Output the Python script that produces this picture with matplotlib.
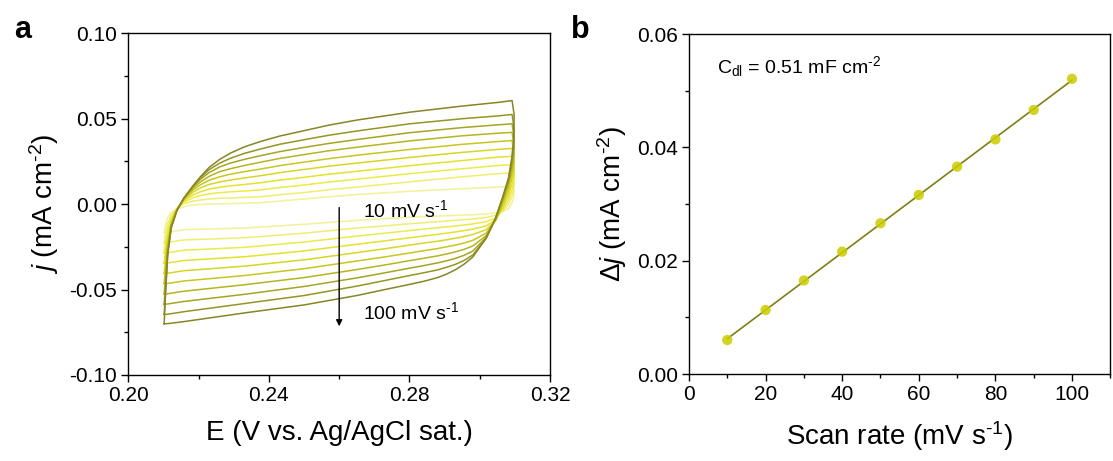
import numpy as np
from matplotlib import pyplot as plt
from matplotlib.ticker import MultipleLocator

# ---- panel a: CV loops (E in V, j in mA cm-2) ----
scan_rates = [10, 20, 30, 40, 50, 60, 70, 80, 90, 100]

# forward (anodic) sweep potentials, shared by every loop
E_fwd = [0.2102, 0.2106, 0.2112, 0.2122, 0.2138, 0.2158, 0.2185, 0.2205,
         0.2230, 0.2260, 0.2290, 0.2330, 0.2375, 0.2430, 0.2500, 0.2570,
         0.2650, 0.2800, 0.2950, 0.3050, 0.3092]
# reverse (cathodic) sweep potentials
E_rev = [0.3098, 0.3096, 0.3091, 0.3082, 0.3065, 0.3045, 0.3018, 0.2980,
         0.2955, 0.2930, 0.2905, 0.2880, 0.2840, 0.2800, 0.2730, 0.2650,
         0.2500, 0.2330, 0.2157, 0.2110]

j_fwd = {
    10: [-0.0165, -0.0120, -0.0080, -0.0050, -0.0030, -0.0015, -0.0005, -0.0002,
         0.0000, 0.0002, 0.0003, 0.0005, 0.0008, 0.0018, 0.0030, 0.0043,
         0.0056, 0.0075, 0.0090, 0.0100, 0.0105],
    20: [-0.0225, -0.0170, -0.0115, -0.0065, -0.0025, 0.0003, 0.0018, 0.0024,
         0.0030, 0.0034, 0.0036, 0.0039, 0.0043, 0.0055, 0.0068, 0.0084,
         0.0100, 0.0130, 0.0160, 0.0178, 0.0182],
    30: [-0.0285, -0.0220, -0.0150, -0.0080, -0.0025, 0.0012, 0.0038, 0.0050,
         0.0060, 0.0067, 0.0072, 0.0077, 0.0083, 0.0097, 0.0112, 0.0129,
         0.0146, 0.0178, 0.0207, 0.0226, 0.0230],
    40: [-0.0345, -0.0270, -0.0185, -0.0095, -0.0028, 0.0020, 0.0055, 0.0072,
         0.0088, 0.0099, 0.0107, 0.0115, 0.0125, 0.0140, 0.0157, 0.0175,
         0.0192, 0.0225, 0.0255, 0.0275, 0.0280],
    50: [-0.0405, -0.0320, -0.0215, -0.0108, -0.0030, 0.0026, 0.0072, 0.0095,
         0.0115, 0.0130, 0.0141, 0.0153, 0.0166, 0.0184, 0.0203, 0.0222,
         0.0240, 0.0273, 0.0303, 0.0320, 0.0326],
    60: [-0.0465, -0.0370, -0.0240, -0.0118, -0.0032, 0.0030, 0.0085, 0.0113,
         0.0140, 0.0160, 0.0175, 0.0190, 0.0205, 0.0225, 0.0246, 0.0266,
         0.0286, 0.0320, 0.0350, 0.0366, 0.0372],
    70: [-0.0525, -0.0420, -0.0260, -0.0125, -0.0034, 0.0032, 0.0095, 0.0130,
         0.0163, 0.0190, 0.0207, 0.0226, 0.0245, 0.0267, 0.0290, 0.0312,
         0.0333, 0.0370, 0.0400, 0.0415, 0.0420],
    80: [-0.0585, -0.0460, -0.0275, -0.0130, -0.0036, 0.0034, 0.0104, 0.0145,
         0.0185, 0.0218, 0.0240, 0.0262, 0.0283, 0.0307, 0.0332, 0.0355,
         0.0378, 0.0418, 0.0448, 0.0464, 0.0470],
    90: [-0.0645, -0.0500, -0.0290, -0.0135, -0.0038, 0.0035, 0.0108, 0.0155,
         0.0202, 0.0240, 0.0268, 0.0297, 0.0322, 0.0350, 0.0377, 0.0403,
         0.0428, 0.0470, 0.0500, 0.0516, 0.0525],
    100: [-0.0700, -0.0520, -0.0300, -0.0140, -0.0040, 0.0035, 0.0110, 0.0160,
          0.0215, 0.0262, 0.0298, 0.0335, 0.0366, 0.0398, 0.0430, 0.0462,
          0.0492, 0.0538, 0.0574, 0.0595, 0.0606],
}

j_rev = {
    10: [0.0070, 0.0035, 0.0005, -0.0025, -0.0043, -0.0052, -0.0057, -0.0062,
         -0.0064, -0.0066, -0.0068, -0.0070, -0.0073, -0.0077, -0.0085, -0.0095,
         -0.0118, -0.0140, -0.0150, -0.0165],
    20: [0.0115, 0.0075, 0.0040, 0.0000, -0.0040, -0.0065, -0.0078, -0.0087,
         -0.0091, -0.0095, -0.0099, -0.0103, -0.0109, -0.0115, -0.0127, -0.0140,
         -0.0170, -0.0197, -0.0210, -0.0225],
    30: [0.0160, 0.0115, 0.0075, 0.0025, -0.0035, -0.0082, -0.0103, -0.0116,
         -0.0122, -0.0128, -0.0133, -0.0138, -0.0146, -0.0155, -0.0170, -0.0187,
         -0.0222, -0.0253, -0.0270, -0.0285],
    40: [0.0205, 0.0155, 0.0110, 0.0050, -0.0025, -0.0092, -0.0128, -0.0146,
         -0.0155, -0.0163, -0.0170, -0.0177, -0.0187, -0.0197, -0.0215, -0.0235,
         -0.0274, -0.0308, -0.0330, -0.0345],
    50: [0.0250, 0.0195, 0.0145, 0.0075, -0.0010, -0.0098, -0.0150, -0.0178,
         -0.0190, -0.0200, -0.0209, -0.0217, -0.0228, -0.0240, -0.0261, -0.0284,
         -0.0326, -0.0363, -0.0390, -0.0405],
    60: [0.0290, 0.0230, 0.0175, 0.0100, 0.0005, -0.0095, -0.0170, -0.0212,
         -0.0228, -0.0240, -0.0250, -0.0260, -0.0273, -0.0286, -0.0309, -0.0333,
         -0.0378, -0.0418, -0.0450, -0.0465],
    70: [0.0340, 0.0270, 0.0205, 0.0120, 0.0020, -0.0090, -0.0185, -0.0245,
         -0.0265, -0.0280, -0.0292, -0.0303, -0.0317, -0.0331, -0.0356, -0.0383,
         -0.0430, -0.0472, -0.0510, -0.0525],
    80: [0.0390, 0.0300, 0.0230, 0.0135, 0.0030, -0.0085, -0.0195, -0.0275,
         -0.0300, -0.0318, -0.0332, -0.0344, -0.0360, -0.0375, -0.0402, -0.0432,
         -0.0482, -0.0528, -0.0570, -0.0585],
    90: [0.0440, 0.0330, 0.0250, 0.0145, 0.0035, -0.0085, -0.0200, -0.0298,
         -0.0330, -0.0353, -0.0370, -0.0385, -0.0402, -0.0418, -0.0447, -0.0480,
         -0.0535, -0.0582, -0.0630, -0.0645],
    100: [0.0520, 0.0360, 0.0270, 0.0155, 0.0040, -0.0080, -0.0200, -0.0310,
          -0.0352, -0.0385, -0.0410, -0.0430, -0.0452, -0.0470, -0.0500, -0.0535,
          -0.0590, -0.0637, -0.0688, -0.0700],
}

cv_colors = ['#f3f19a', '#f0ee70', '#ecea48', '#e4e22c', '#d8d622',
             '#c8c61e', '#b6b420', '#a6a422', '#969424', '#878526']

# ---- panel b: capacitive current vs scan rate ----
rate = [10, 20, 30, 40, 50, 60, 70, 80, 90, 100]
delta_j = [0.0060, 0.0113, 0.0165, 0.0216, 0.0266, 0.0316, 0.0366, 0.0414,
           0.0466, 0.0521]

plt.rcParams['font.family'] = ['Liberation Sans', 'DejaVu Sans']
plt.rcParams['mathtext.fontset'] = 'custom'
plt.rcParams['mathtext.rm'] = 'Liberation Sans'
plt.rcParams['mathtext.it'] = 'Liberation Sans:italic'
plt.rcParams['xtick.direction'] = 'out'
plt.rcParams['ytick.direction'] = 'out'

TICK_FS = 15
LABEL_FS = 20
NOTE_FS = 14
INV = '$^{\\text{-}1}$'
INV2 = '$^{\\text{-}2}$'


def style_axis(ax):
    for side in ax.spines.values():
        side.set_linewidth(1.0)
    ax.tick_params(which='major', length=5, width=1.0, labelsize=TICK_FS, pad=3)
    ax.tick_params(which='minor', length=3, width=1.0)


def plot_cv(ax):
    for r, c in zip(scan_rates, cv_colors):
        E = E_fwd + E_rev + [E_fwd[0]]
        j = j_fwd[r] + j_rev[r] + [j_fwd[r][0]]
        ax.plot(E, j, color=c, lw=1.1, solid_joinstyle='round')
    ax.set_xlim(0.20, 0.32)
    ax.set_ylim(-0.10, 0.10)
    ax.xaxis.set_major_locator(MultipleLocator(0.04))
    ax.xaxis.set_minor_locator(MultipleLocator(0.02))
    ax.yaxis.set_major_locator(MultipleLocator(0.05))
    ax.yaxis.set_minor_locator(MultipleLocator(0.025))
    ax.xaxis.set_major_formatter(lambda v, p: f"{v:.2f}")
    ax.yaxis.set_major_formatter(lambda v, p: f"{v:.2f}")
    ax.set_xlabel('E (V vs. Ag/AgCl sat.)', fontsize=LABEL_FS, labelpad=11)
    ax.set_ylabel('$\\mathit{j}$ (mA cm' + INV2 + ')', fontsize=LABEL_FS,
                  labelpad=6)
    ax.annotate('', xy=(0.26, -0.0715), xytext=(0.26, -0.002),
                arrowprops=dict(arrowstyle='-|>', color='black', lw=1.0,
                                mutation_scale=9, shrinkA=0, shrinkB=0))
    ax.text(0.2668, -0.0035, '10 mV s' + INV, fontsize=NOTE_FS, va='center')
    ax.text(0.2668, -0.0630, '100 mV s' + INV, fontsize=NOTE_FS, va='center')
    style_axis(ax)


def plot_cdl(ax):
    slope, intercept = np.polyfit(rate, delta_j, 1)
    fit_x = np.array([rate[0], rate[-1]])
    ax.plot(fit_x, slope * fit_x + intercept, color='#7f7f10', lw=1.2, zorder=2)
    ax.scatter(rate, delta_j, s=55, color='#cccc00', alpha=0.85,
               edgecolors='none', zorder=3)
    ax.set_xlim(0, 110)
    ax.set_ylim(0, 0.06)
    ax.xaxis.set_major_locator(MultipleLocator(20))
    ax.xaxis.set_minor_locator(MultipleLocator(10))
    ax.yaxis.set_major_locator(MultipleLocator(0.02))
    ax.yaxis.set_minor_locator(MultipleLocator(0.01))
    ax.yaxis.set_major_formatter(lambda v, p: f"{v:.2f}")
    ax.set_xlabel('Scan rate (mV s' + INV + ')', fontsize=LABEL_FS, labelpad=11)
    ax.set_ylabel('$\\mathit{\\Delta j}$ (mA cm' + INV2 + ')', fontsize=LABEL_FS,
                  labelpad=6)
    ax.text(7.2, 0.0542, 'C$_{\\mathrm{dl}}$ = 0.51 mF cm' + INV2,
            fontsize=NOTE_FS, va='center')
    style_axis(ax)


def main():
    fig = plt.figure(figsize=(11.13, 4.61), dpi=100)
    ax_a = fig.add_axes([0.1153, 0.1866, 0.3789, 0.7412])
    ax_b = fig.add_axes([0.6190, 0.1887, 0.3786, 0.7375])
    plot_cv(ax_a)
    plot_cdl(ax_b)
    fig.text(0.013, 0.935, 'a', fontsize=22, fontweight='bold', va='center')
    fig.text(0.513, 0.935, 'b', fontsize=22, fontweight='bold', va='center')
    fig.savefig('out.png', dpi=100)


if __name__ == '__main__':
    main()
